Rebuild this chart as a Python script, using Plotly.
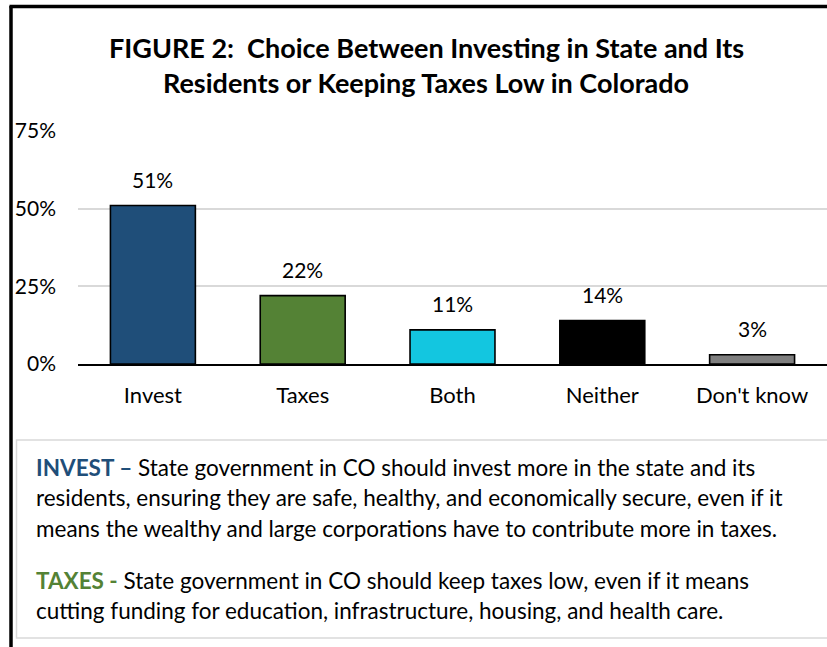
import plotly.graph_objects as go

categories = ["Invest", "Taxes", "Both", "Neither", "Don't know"]
values = [51, 22, 11, 14, 3]
bar_colors = ["#1F4E79", "#548235", "#13C6E0", "#000000", "#7F7F7F"]
y_ticks = [0, 25, 50, 75]
y_tick_labels = ["0%", "25%", "50%", "75%"]

title_lines = ["FIGURE 2:  Choice Between Investing in State and Its",
               "Residents or Keeping Taxes Low in Colorado"]
invest_lines = ["<b><span style='color:#1F4E79'>INVEST –</span></b> State government in CO should invest more in the state and its",
                "residents, ensuring they are safe, healthy, and economically secure, even if it",
                "means the wealthy and large corporations have to contribute more in taxes."]
taxes_lines = ["<b><span style='color:#548235'>TAXES -</span></b> State government in CO should keep taxes low, even if it means",
               "cutting funding for education, infrastructure, housing, and health care."]

W, H = 827, 647
L, R, T, B = 78, 0, 131, 283
PW = W - L - R
PH = H - T - B
FONT = "Lato, Carlito, Calibri, sans-serif"


def px(x):
    return (x - L) / PW


def py(y):
    return (H - B - y) / PH


fig = go.Figure()
fig.add_trace(go.Bar(
    x=categories, y=values, width=0.567,
    marker=dict(color=bar_colors, line=dict(color="#000000", width=1.6)),
    hoverinfo="skip",
))

annotations = []
for c, v in zip(categories, values):
    annotations.append(dict(x=c, y=v, xref="x", yref="y", text=f"{v}%",
                            showarrow=False, yanchor="middle", yshift=26,
                            font=dict(family=FONT, size=21, color="#000000")))

for i, line in enumerate(title_lines):
    annotations.append(dict(x=px(426), y=py(48 + 34 * i), xref="paper", yref="paper",
                            text=f"<b>{line}</b>", showarrow=False,
                            xanchor="center", yanchor="middle",
                            font=dict(family=FONT, size=27, color="#000000")))

for i, line in enumerate(invest_lines):
    annotations.append(dict(x=px(34), y=py(467 + 30.5 * i), xref="paper", yref="paper",
                            text=line, showarrow=False, xanchor="left", yanchor="middle",
                            font=dict(family=FONT, size=22.5, color="#000000")))
for i, line in enumerate(taxes_lines):
    annotations.append(dict(x=px(34), y=py(580 + 30.5 * i), xref="paper", yref="paper",
                            text=line, showarrow=False, xanchor="left", yanchor="middle",
                            font=dict(family=FONT, size=22.5, color="#000000")))

shapes = [
    # black frame left and top
    dict(type="line", xref="paper", yref="paper", x0=px(11), x1=px(11), y0=py(6), y1=py(H + 5),
         line=dict(color="#000000", width=3.5)),
    dict(type="line", xref="paper", yref="paper", x0=px(9.5), x1=px(W + 5), y0=py(6.5), y1=py(6.5),
         line=dict(color="#000000", width=3.5)),
    # text box
    dict(type="rect", xref="paper", yref="paper", x0=px(16.5), x1=px(W + 5), y0=py(440), y1=py(638),
         line=dict(color="#D9D9D9", width=1.5), fillcolor="rgba(0,0,0,0)"),
]

fig.update_layout(
    width=W, height=H,
    margin=dict(l=L, r=R, t=T, b=B, pad=0),
    paper_bgcolor="#FFFFFF", plot_bgcolor="#FFFFFF",
    showlegend=False,
    bargap=0.433,
    annotations=annotations,
    shapes=shapes,
    xaxis=dict(range=[-0.5, 4.5], showgrid=False, zeroline=False, showline=True,
               linecolor="#000000", linewidth=1.6, ticks="", ticklabelstandoff=11,
               tickfont=dict(family=FONT, size=22, color="#000000"), fixedrange=True),
    yaxis=dict(range=[0, 75], tickvals=y_ticks, ticktext=y_tick_labels,
               showgrid=True, gridcolor="#D9D9D9", gridwidth=1.5, zeroline=False,
               showline=False, ticks="", ticklabelstandoff=21,
               tickfont=dict(family=FONT, size=21, color="#000000"), fixedrange=True),
)

fig.write_html("out.html", config={"displayModeBar": False})
